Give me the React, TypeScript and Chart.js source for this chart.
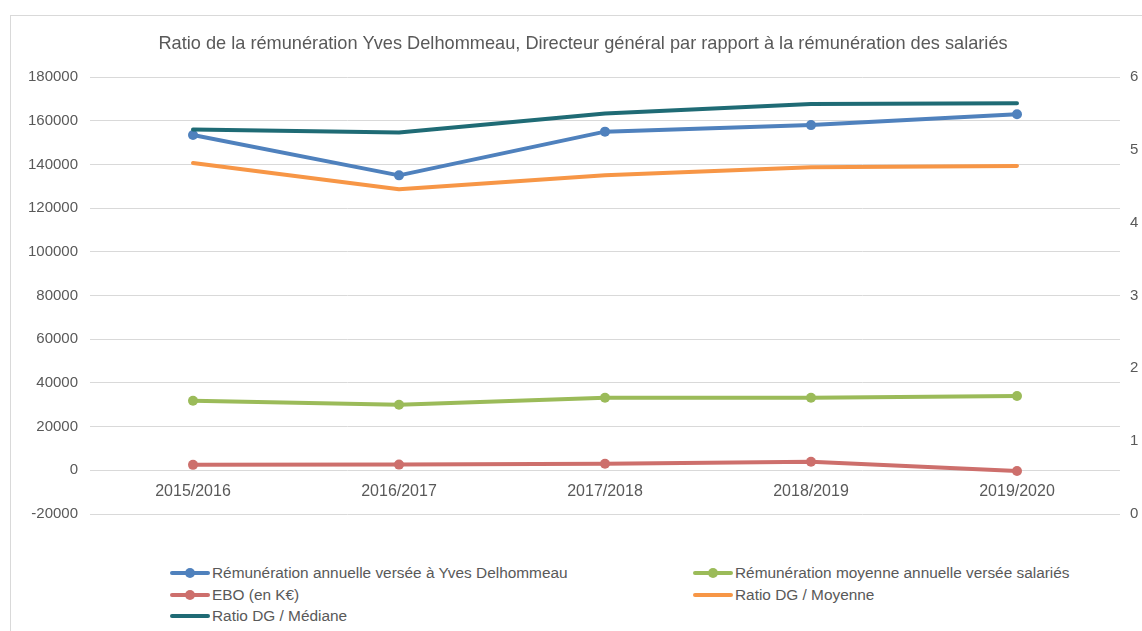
import React, { useEffect, useRef } from "react";
import { Chart, registerables } from "chart.js";

Chart.register(...registerables);

const categories = ["2015/2016", "2016/2017", "2017/2018", "2018/2019", "2019/2020"];
const remunDG = [153500, 135000, 155000, 158000, 163000];
const remunMoyenne = [31800, 30000, 33200, 33200, 34000];
const ebo = [2500, 2600, 3000, 3900, -300];
const ratioMoyenne = [4.82, 4.46, 4.65, 4.76, 4.78];
const ratioMediane = [5.28, 5.24, 5.5, 5.63, 5.64];

const leftMin = -20000;
const leftMax = 180000;
const leftStep = 20000;
const rightMin = 0;
const rightMax = 6;
const rightStep = 1;

const titleText =
  "Ratio de la rémunération Yves Delhommeau, Directeur général par rapport à la rémunération des salariés";

const FONT = '"Liberation Sans", Arial, sans-serif';

const seriesNames = [
  "Rémunération annuelle versée à Yves Delhommeau",
  "Rémunération moyenne annuelle versée salariés",
  "EBO (en K€)",
  "Ratio DG / Moyenne",
  "Ratio DG / Médiane",
];
const seriesColors = ["#4F81BD", "#9BBB59", "#CD6F6C", "#F79646", "#1F6B75"];
const seriesMarkers = [true, true, true, false, false];

const CANVAS_W = 1166;
const CANVAS_H = 535;

export default function App() {
  const ref = useRef<HTMLCanvasElement | null>(null);

  useEffect(() => {
    if (!ref.current) return;
    const mk = (i: number, data: number[], axis: string) => ({
      label: seriesNames[i],
      data,
      yAxisID: axis,
      borderColor: seriesColors[i],
      backgroundColor: seriesColors[i],
      borderWidth: 4,
      pointRadius: seriesMarkers[i] ? 5 : 0,
      pointHoverRadius: seriesMarkers[i] ? 5 : 0,
      pointBorderWidth: 0,
      tension: 0,
      borderCapStyle: "round" as const,
      borderJoinStyle: "round" as const,
    });
    const chart = new Chart(ref.current, {
      type: "line",
      data: {
        labels: categories,
        datasets: [
          mk(4, ratioMediane, "y1"),
          mk(3, ratioMoyenne, "y1"),
          mk(2, ebo, "y"),
          mk(1, remunMoyenne, "y"),
          mk(0, remunDG, "y"),
        ],
      },
      options: {
        responsive: false,
        animation: false,
        devicePixelRatio: 1,
        layout: { padding: { left: 0, right: 0, top: 0, bottom: 9 } },
        plugins: {
          legend: { display: false },
          tooltip: { enabled: false },
          title: {
            display: true,
            text: titleText,
            color: "#595959",
            font: { family: FONT, size: 18.2, weight: "normal" },
            padding: { top: 33.1, bottom: 22.1 },
          },
        },
        scales: {
          x: {
            type: "category",
            position: { y: 0 } as any,
            offset: true,
            grid: { display: false, drawTicks: false },
            border: { display: false },
            ticks: {
              color: "#595959",
              font: { family: FONT, size: 16 },
              padding: 12,
              maxRotation: 0,
            },
          },
          y: {
            position: "left",
            min: leftMin,
            max: leftMax,
            ticks: {
              stepSize: leftStep,
              color: "#595959",
              font: { family: FONT, size: 15 },
              padding: 12,
              callback: (v: any) => String(v),
            },
            grid: { color: "#D9D9D9", lineWidth: 1, drawTicks: false },
            border: { display: false },
            afterFit: (s: any) => {
              s.width = 90;
            },
          },
          y1: {
            position: "right",
            min: rightMin,
            max: rightMax,
            ticks: {
              stepSize: rightStep,
              color: "#595959",
              font: { family: FONT, size: 15 },
              padding: 10,
              callback: (v: any) => String(v),
            },
            grid: { display: false, drawTicks: false },
            border: { display: false },
            afterFit: (s: any) => {
              s.width = CANVAS_W - 1120;
            },
          },
        },
      },
    });
    return () => chart.destroy();
  }, []);

  const legendPos = [
    { x: 170, y: 573 },
    { x: 693, y: 573 },
    { x: 170, y: 595 },
    { x: 693, y: 595 },
    { x: 170, y: 616 },
  ];

  return (
    <div
      style={{
        position: "fixed",
        left: 0,
        top: 0,
        width: 1142,
        height: 631,
        overflow: "hidden",
        background: "#fff",
        fontFamily: FONT,
      }}
    >
      <div
        style={{
          position: "absolute",
          left: 10,
          top: 15,
          width: 1200,
          height: 700,
          border: "1px solid #D9D9D9",
          boxSizing: "border-box",
        }}
      />
      <canvas
        ref={ref}
        width={CANVAS_W}
        height={CANVAS_H}
        style={{ position: "absolute", left: 0, top: 0, width: CANVAS_W, height: CANVAS_H }}
      />
      {seriesNames.map((name, i) => (
        <div
          key={name}
          style={{
            position: "absolute",
            left: legendPos[i].x,
            top: legendPos[i].y - 11,
            height: 22,
            display: "flex",
            alignItems: "center",
            whiteSpace: "nowrap",
          }}
        >
          <div style={{ position: "relative", width: 40, height: 22, marginRight: 2 }}>
            <div
              style={{
                position: "absolute",
                left: 0,
                top: 9,
                width: 40,
                height: 4,
                borderRadius: 2,
                background: seriesColors[i],
              }}
            />
            {seriesMarkers[i] && (
              <div
                style={{
                  position: "absolute",
                  left: 15,
                  top: 6,
                  width: 10,
                  height: 10,
                  borderRadius: 5,
                  background: seriesColors[i],
                }}
              />
            )}
          </div>
          <span style={{ fontSize: 15.4, color: "#595959" }}>{name}</span>
        </div>
      ))}
    </div>
  );
}
